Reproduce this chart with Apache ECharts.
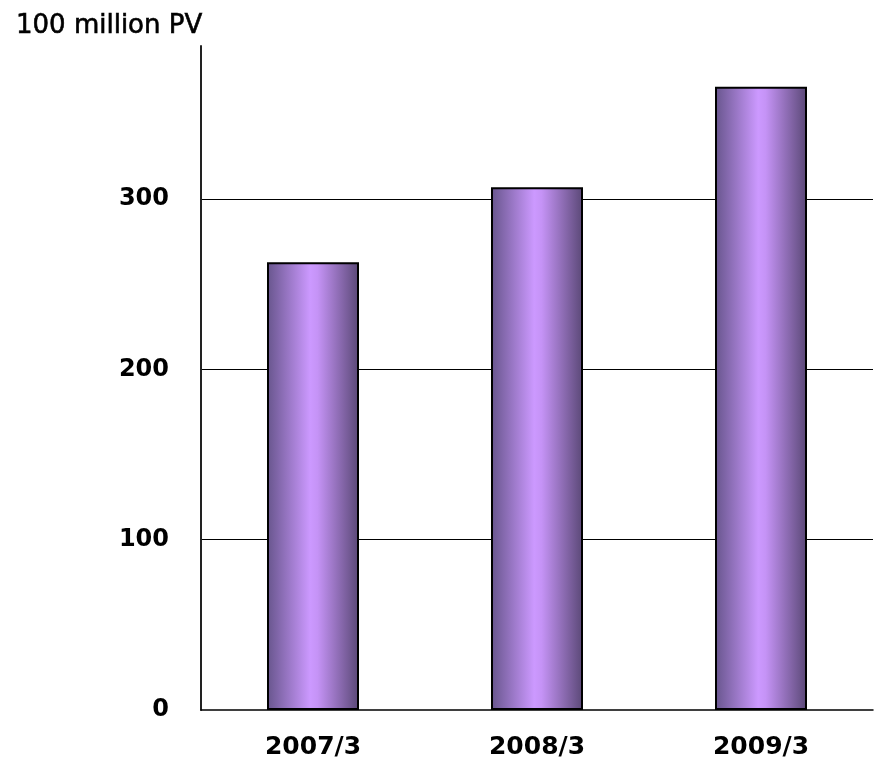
<!DOCTYPE html>
<html>
<head>
<meta charset="utf-8">
<script src="https://cdn.jsdelivr.net/npm/echarts@6/dist/echarts.min.js"></script>
<style>
  html, body { margin: 0; padding: 0; background: #fff; }
  #chart { width: 874px; height: 760px; }
</style>
</head>
<body>
<div id="chart"></div>
<script>
// Page views per fiscal year end, in units of 100 million
var categories = ['2007/3', '2008/3', '2009/3'];
var pageViews = [263, 307, 366];
var yTicks = [0, 100, 200, 300];
var unitLabel = '100 million PV';

var barFill = new echarts.graphic.LinearGradient(0, 0, 1, 0, [
  { offset: 0, color: '#67558c' },
  { offset: 0.47, color: '#cc99ff' },
  { offset: 0.55, color: '#c593f6' },
  { offset: 1, color: '#5a4876' }
]);

var chart = echarts.init(document.getElementById('chart'), null, { renderer: 'canvas' });

chart.setOption({
  animation: false,
  backgroundColor: '#ffffff',
  title: {
    text: unitLabel,
    left: 11,
    top: 8,
    textStyle: {
      fontFamily: 'DejaVu Sans',
      fontWeight: 'normal',
      fontSize: 26,
      color: '#000',
      textBorderColor: '#000',
      textBorderWidth: 0.6
    }
  },
  grid: {
    left: 201,
    right: 1,
    top: 46,
    bottom: 50,
    containLabel: false
  },
  xAxis: {
    type: 'category',
    data: categories,
    axisLine: { show: true, lineStyle: { color: '#000', width: 1.5 } },
    axisTick: { show: false },
    axisLabel: {
      margin: 25,
      color: '#000',
      fontFamily: 'DejaVu Sans',
      fontWeight: 'bold',
      fontSize: 25
    }
  },
  yAxis: {
    type: 'value',
    min: 0,
    max: 390,
    interval: 100,
    axisLine: { show: true, lineStyle: { color: '#222', width: 2 } },
    axisTick: { show: false },
    axisLabel: {
      margin: 32,
      showMaxLabel: false,
      color: '#000',
      fontFamily: 'DejaVu Sans',
      fontWeight: 'bold',
      fontSize: 24,
      padding: [6, 0, 0, 0],
      formatter: function (v) { return yTicks.indexOf(v) >= 0 ? String(v) : ''; }
    },
    splitLine: {
      show: true,
      showMaxLine: false,
      showMinLine: false,
      lineStyle: { color: '#000', width: 1 }
    }
  },
  series: [{
    type: 'bar',
    data: pageViews,
    barWidth: 92,
    itemStyle: {
      color: barFill,
      borderColor: '#000',
      borderWidth: 2
    }
  }]
});
</script>
</body>
</html>
